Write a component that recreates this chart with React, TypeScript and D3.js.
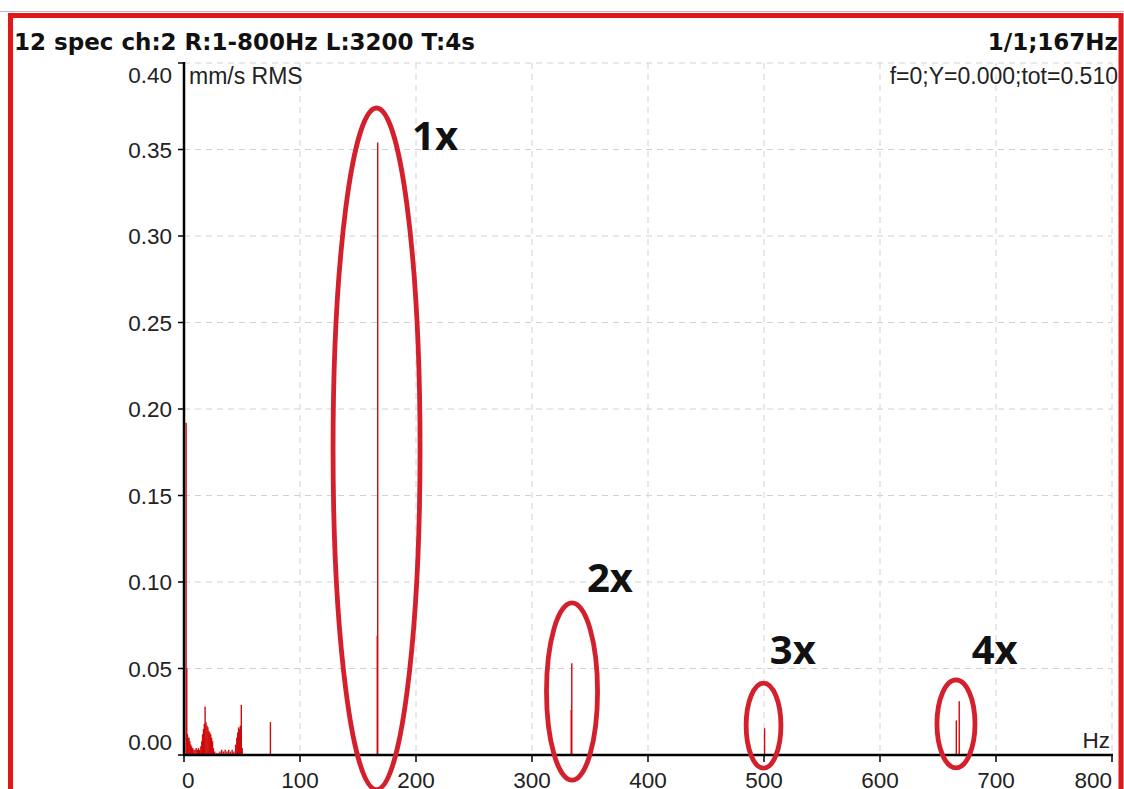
import React from 'react';
import * as d3 from 'd3';

// ---- data ----
const spectrumHz = [
  1.8, 2.4, 3.0, 3.6, 4.3, 5.0, 5.8, 6.6, 7.5, 8.5, 9.5, 10.5, 11.5, 12.5, 13.5, 14.5,
  15.3, 16.0, 16.8, 17.5, 18.2, 19.0, 19.8, 20.6, 21.4, 22.2, 23.0, 23.8, 24.6, 25.4,
  26.5, 28.0, 29.5, 31.0, 32.5, 34.0, 35.5, 37.0, 38.5, 40.0, 41.5, 43.0,
  44.5, 45.5, 46.3, 47.1, 47.9, 48.6, 49.4, 50.2,
  74.5, 166.6, 167.0, 333.8, 334.3, 500.5, 665.8, 668.3,
];
const spectrumAmp = [
  0.192, 0.050, 0.012, 0.010, 0.010, 0.008, 0.006, 0.005, 0.004, 0.003, 0.003, 0.004, 0.003, 0.004, 0.003, 0.005,
  0.008, 0.012, 0.015, 0.018, 0.028, 0.019, 0.017, 0.016, 0.014, 0.013, 0.012, 0.010, 0.008, 0.004,
  0.002, 0.001, 0.001, 0.002, 0.003, 0.002, 0.003, 0.002, 0.003, 0.002, 0.003, 0.002,
  0.006, 0.010, 0.013, 0.016, 0.015, 0.017, 0.029, 0.004,
  0.019, 0.069, 0.354, 0.026, 0.053, 0.0155, 0.020, 0.031,
];
const xTicks = [0, 100, 200, 300, 400, 500, 600, 700, 800];
const yTicks = [0, 0.05, 0.1, 0.15, 0.2, 0.25, 0.3, 0.35, 0.4];
const harmonicNames = ['1x', '2x', '3x', '4x'];
const harmonicCenterHz = [166, 334.5, 499.6, 665.5];
const harmonicCenterAmp = [0.177, 0.0367, 0.017, 0.018];
const harmonicHalfWidthHz = [37.5, 22, 15, 16.4];
const harmonicHalfHeightAmp = [0.197, 0.0512, 0.0246, 0.0254];
const harmonicLabelHz = [196.6, 347.4, 505, 679];
const harmonicLabelAmp = [0.35, 0.094, 0.0526, 0.0526];

const titleLeft = '12 spec ch:2 R:1-800Hz L:3200 T:4s';
const titleRight = '1/1;167Hz';
const infoRight = 'f=0;Y=0.000;tot=0.510';
const unitLabel = 'mm/s RMS';
const xUnit = 'Hz';

export default function App() {
  const W = 1124, H = 789;
  const x = d3.scaleLinear().domain([0, 800]).range([184, 1112]);
  const y = d3.scaleLinear().domain([0, 0.4]).range([755, 63]);
  const font = "'Liberation Sans', Arial, sans-serif";
  const boldFont = "'DejaVu Sans', Verdana, sans-serif";
  const fmt = d3.format('.2f');

  return (
    <svg width={W} height={H} style={{ position: 'absolute', left: 0, top: 0, background: '#fff' }}>
      {/* frame */}
      <line x1={0} x2={W} y1={11.5} y2={11.5} stroke="#bdb5c5" strokeWidth={1} />
      <rect x={10.5} y={15.5} width={1110.5} height={H + 20} fill="#fff" stroke="#e01818" strokeWidth={5} />

      {/* grid */}
      {yTicks.filter(t => t > 0).map(t => (
        <line key={'gy' + t} x1={x(0)} x2={x(800)} y1={y(t)} y2={y(t)} stroke="#d2d2d2" strokeWidth={1} strokeDasharray="6,5" />
      ))}
      {xTicks.filter(t => t > 0).map(t => (
        <line key={'gx' + t} x1={x(t)} x2={x(t)} y1={y(0.4)} y2={y(0)} stroke="#d2d2d2" strokeWidth={1} strokeDasharray="6,5" />
      ))}

      {/* spectrum */}
      {spectrumHz.map((f, i) => (
        <line key={'s' + i} x1={x(f)} x2={x(f)} y1={y(0)} y2={y(spectrumAmp[i])} stroke="#cf0a0a" strokeWidth={1.4} />
      ))}

      {/* axes */}
      <line x1={x(0)} x2={x(0)} y1={y(0.4) - 1} y2={y(0) + 1} stroke="#000" strokeWidth={2.5} />
      <line x1={x(0) - 1} x2={x(800) + 1} y1={y(0)} y2={y(0)} stroke="#000" strokeWidth={2.5} />
      {yTicks.map(t => (
        <line key={'ty' + t} x1={x(0) - 6} x2={x(0)} y1={y(t)} y2={y(t)} stroke="#000" strokeWidth={1.5} />
      ))}
      {xTicks.map(t => (
        <line key={'tx' + t} x1={x(t)} x2={x(t)} y1={y(0)} y2={y(0) + 7} stroke="#000" strokeWidth={1.5} />
      ))}
      {yTicks.map(t => {
        let cy = y(t);
        if (t === 0) cy -= 13;
        if (t === 0.4) cy += 12;
        return (
          <text key={'ly' + t} x={x(0) - 12} y={cy + 8} textAnchor="end" fontFamily={font} fontSize={22.5} fill="#222">{fmt(t)}</text>
        );
      })}
      {xTicks.map((t, i) => {
        const anchor = i === 0 ? 'start' : i === xTicks.length - 1 ? 'end' : 'middle';
        const dx = i === 0 ? -2 : 0;
        return (
          <text key={'lx' + t} x={x(t) + dx} y={788} textAnchor={anchor} fontFamily={font} fontSize={22.5} fill="#222">{t}</text>
        );
      })}

      {/* texts */}
      <text x={14} y={50} fontFamily={boldFont} fontWeight="bold" fontSize={23} fill="#111">{titleLeft}</text>
      <text x={1118} y={50} textAnchor="end" fontFamily={boldFont} fontWeight="bold" fontSize={23} fill="#111">{titleRight}</text>
      <text x={1118} y={84} textAnchor="end" fontFamily={font} fontSize={23} fill="#222">{infoRight}</text>
      <text x={189} y={84} fontFamily={font} fontSize={23} fill="#222">{unitLabel}</text>
      <text x={1110} y={748} textAnchor="end" fontFamily={font} fontSize={22.5} fill="#222">{xUnit}</text>

      {/* harmonic annotations */}
      {harmonicNames.map((name, i) => {
        const cx = x(harmonicCenterHz[i]);
        const cy = y(harmonicCenterAmp[i]);
        const rx = x(harmonicCenterHz[i] + harmonicHalfWidthHz[i]) - cx;
        const ry = cy - y(harmonicCenterAmp[i] + harmonicHalfHeightAmp[i]);
        return (
          <g key={name}>
            <ellipse cx={cx} cy={cy} rx={rx} ry={ry} fill="none" stroke="#d4202c" strokeWidth={4.8} />
            <text x={x(harmonicLabelHz[i])} y={y(harmonicLabelAmp[i])} fontFamily="'Open Sans', sans-serif" fontWeight="bold" fontSize={40} fill="#111">{name}</text>
          </g>
        );
      })}
    </svg>
  );
}
